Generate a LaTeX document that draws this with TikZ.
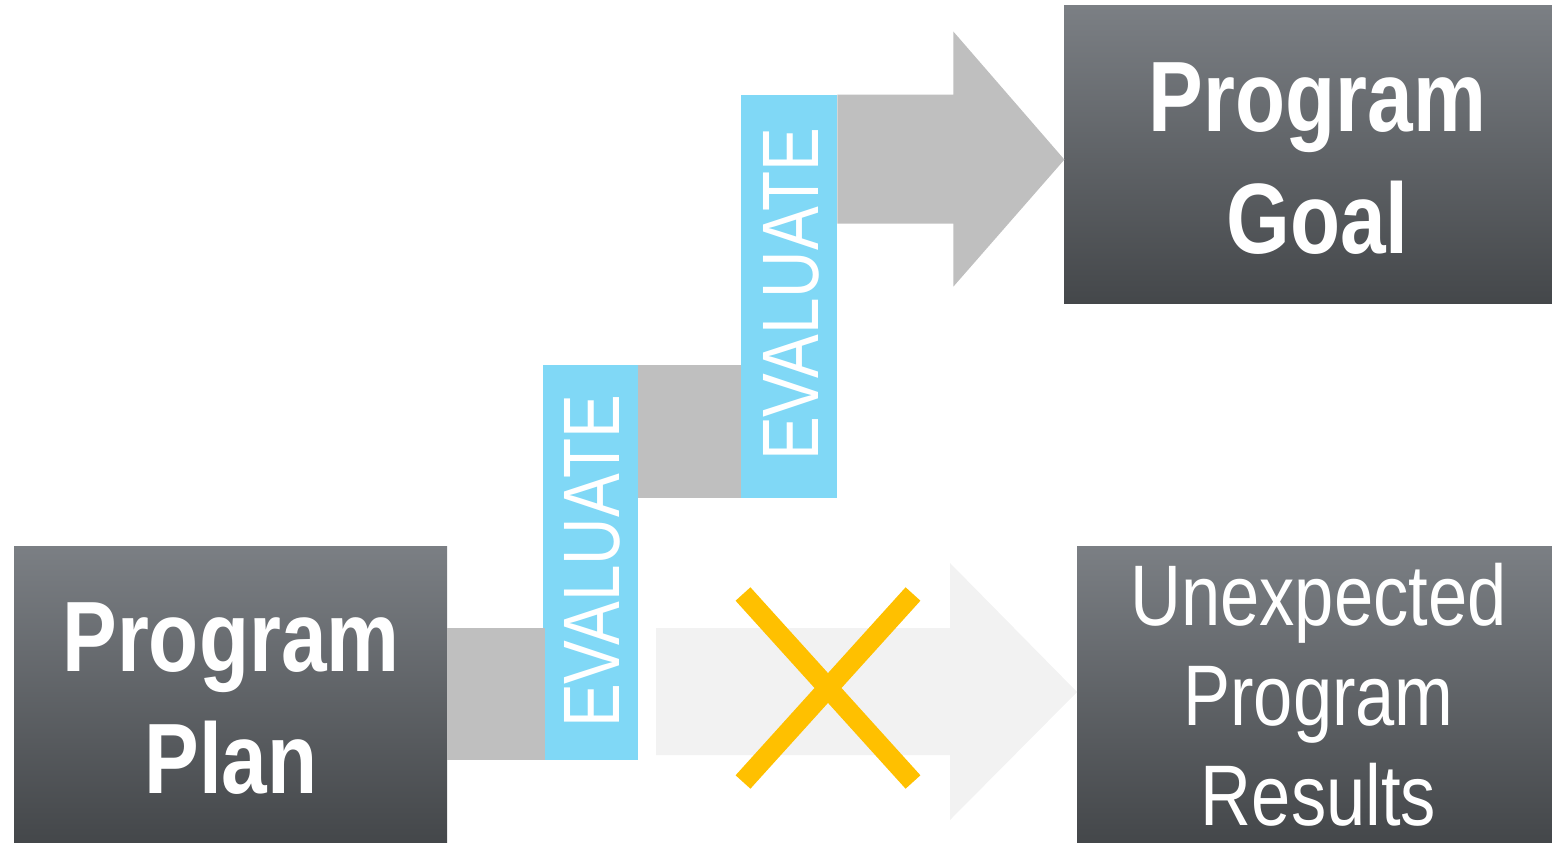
\documentclass[tikz,border=0pt]{standalone}
\usepackage{graphicx}
\usepackage{fontspec}
\setmainfont{Liberation Sans}
\newfontfamily\narrowsf[FakeStretch=0.82]{Liberation Sans}
\usetikzlibrary{positioning,calc}

\definecolor{boxtop}{RGB}{123,127,132}
\definecolor{boxbottom}{RGB}{68,71,74}
\definecolor{evalblue}{RGB}{128,216,246}
\definecolor{linkgray}{RGB}{191,191,191}
\definecolor{fadegray}{RGB}{242,242,242}
\definecolor{nogoyellow}{RGB}{255,192,0}

\newcommand{\titlefont}{\narrowsf\bfseries\fontsize{50pt}{61pt}\selectfont}
\newcommand{\resultfont}{\narrowsf\fontsize{43pt}{50pt}\selectfont}
\newcommand{\evalfont}{\narrowsf\fontsize{40pt}{46pt}\selectfont}

\begin{document}
\begin{tikzpicture}[x=0.5pt, y=0.5pt,
        box/.style = {top color=boxtop, bottom color=boxbottom, draw=none, inner sep=0pt},
        box_text/.style = {text=white, align=center, inner sep=0pt},
        eval_bar/.style = {fill=evalblue, inner sep=0pt},
        eval_text/.style = {text=white, inner sep=0pt, font=\evalfont, rotate=90},
        link/.style = {fill=linkgray},
        nogo/.style = {draw=nogoyellow, line width=10pt}]
        \useasboundingbox (0,0) rectangle (1552,842);
        \node[box, minimum width=216.5pt, minimum height=148pt] (1) at (230.5, 148) {};
        \node[eval_bar, minimum width=47.5pt, minimum height=197.5pt] (2) at (590.5, 279.5) {};
        \node[eval_bar, minimum width=48pt, minimum height=201.5pt] (3) at (789, 545.5) {};
        \node[box, minimum width=244pt, minimum height=149pt] (4) at (1308, 687) {};
        \node[box, minimum width=237.5pt, minimum height=148pt] (5) at (1314.5, 148) {};
        \node[box_text, font=\titlefont] (1t) at (231, 143) {Program\\Plan};
        \node[eval_text] (2t) at (592, 280.5) {EVALUATE};
        \node[eval_text] (3t) at (791.5, 547.5) {EVALUATE};
        \node[box_text, font=\titlefont] (4t) at (1317.5, 683) {Program\\Goal};
        \node[box_text, font=\resultfont] (5t) at (1318.5, 147) {Unexpected\\Program\\Results};
        \fill[link] (1.east |- 2.south) rectangle ($(2.south west) + (2,132)$);
        \fill[link] (2.north east) rectangle (3.south west);
        \fill[link] (3.north east) -- ++(116,0) -- ++(0,63) -- ++(111,-128) -- ++(-111,-127) -- ++(0,63) -- ++(-116,0) -- cycle;
        \coordinate (fade) at (656,214);
        \fill[fadegray] (fade) -- ++(294,0) -- ++(0,65) -- ++(127,-129) -- ++(-127,-128) -- ++(0,65) -- ++(-294,0) -- cycle;
        \coordinate (no) at (828,154);
        \draw[nogo] ($(no) + (-85,94)$) -- ($(no) + (85,-94)$);
        \draw[nogo] ($(no) + (85,94)$) -- ($(no) + (-85,-94)$);
    \end{tikzpicture}
\end{document}
